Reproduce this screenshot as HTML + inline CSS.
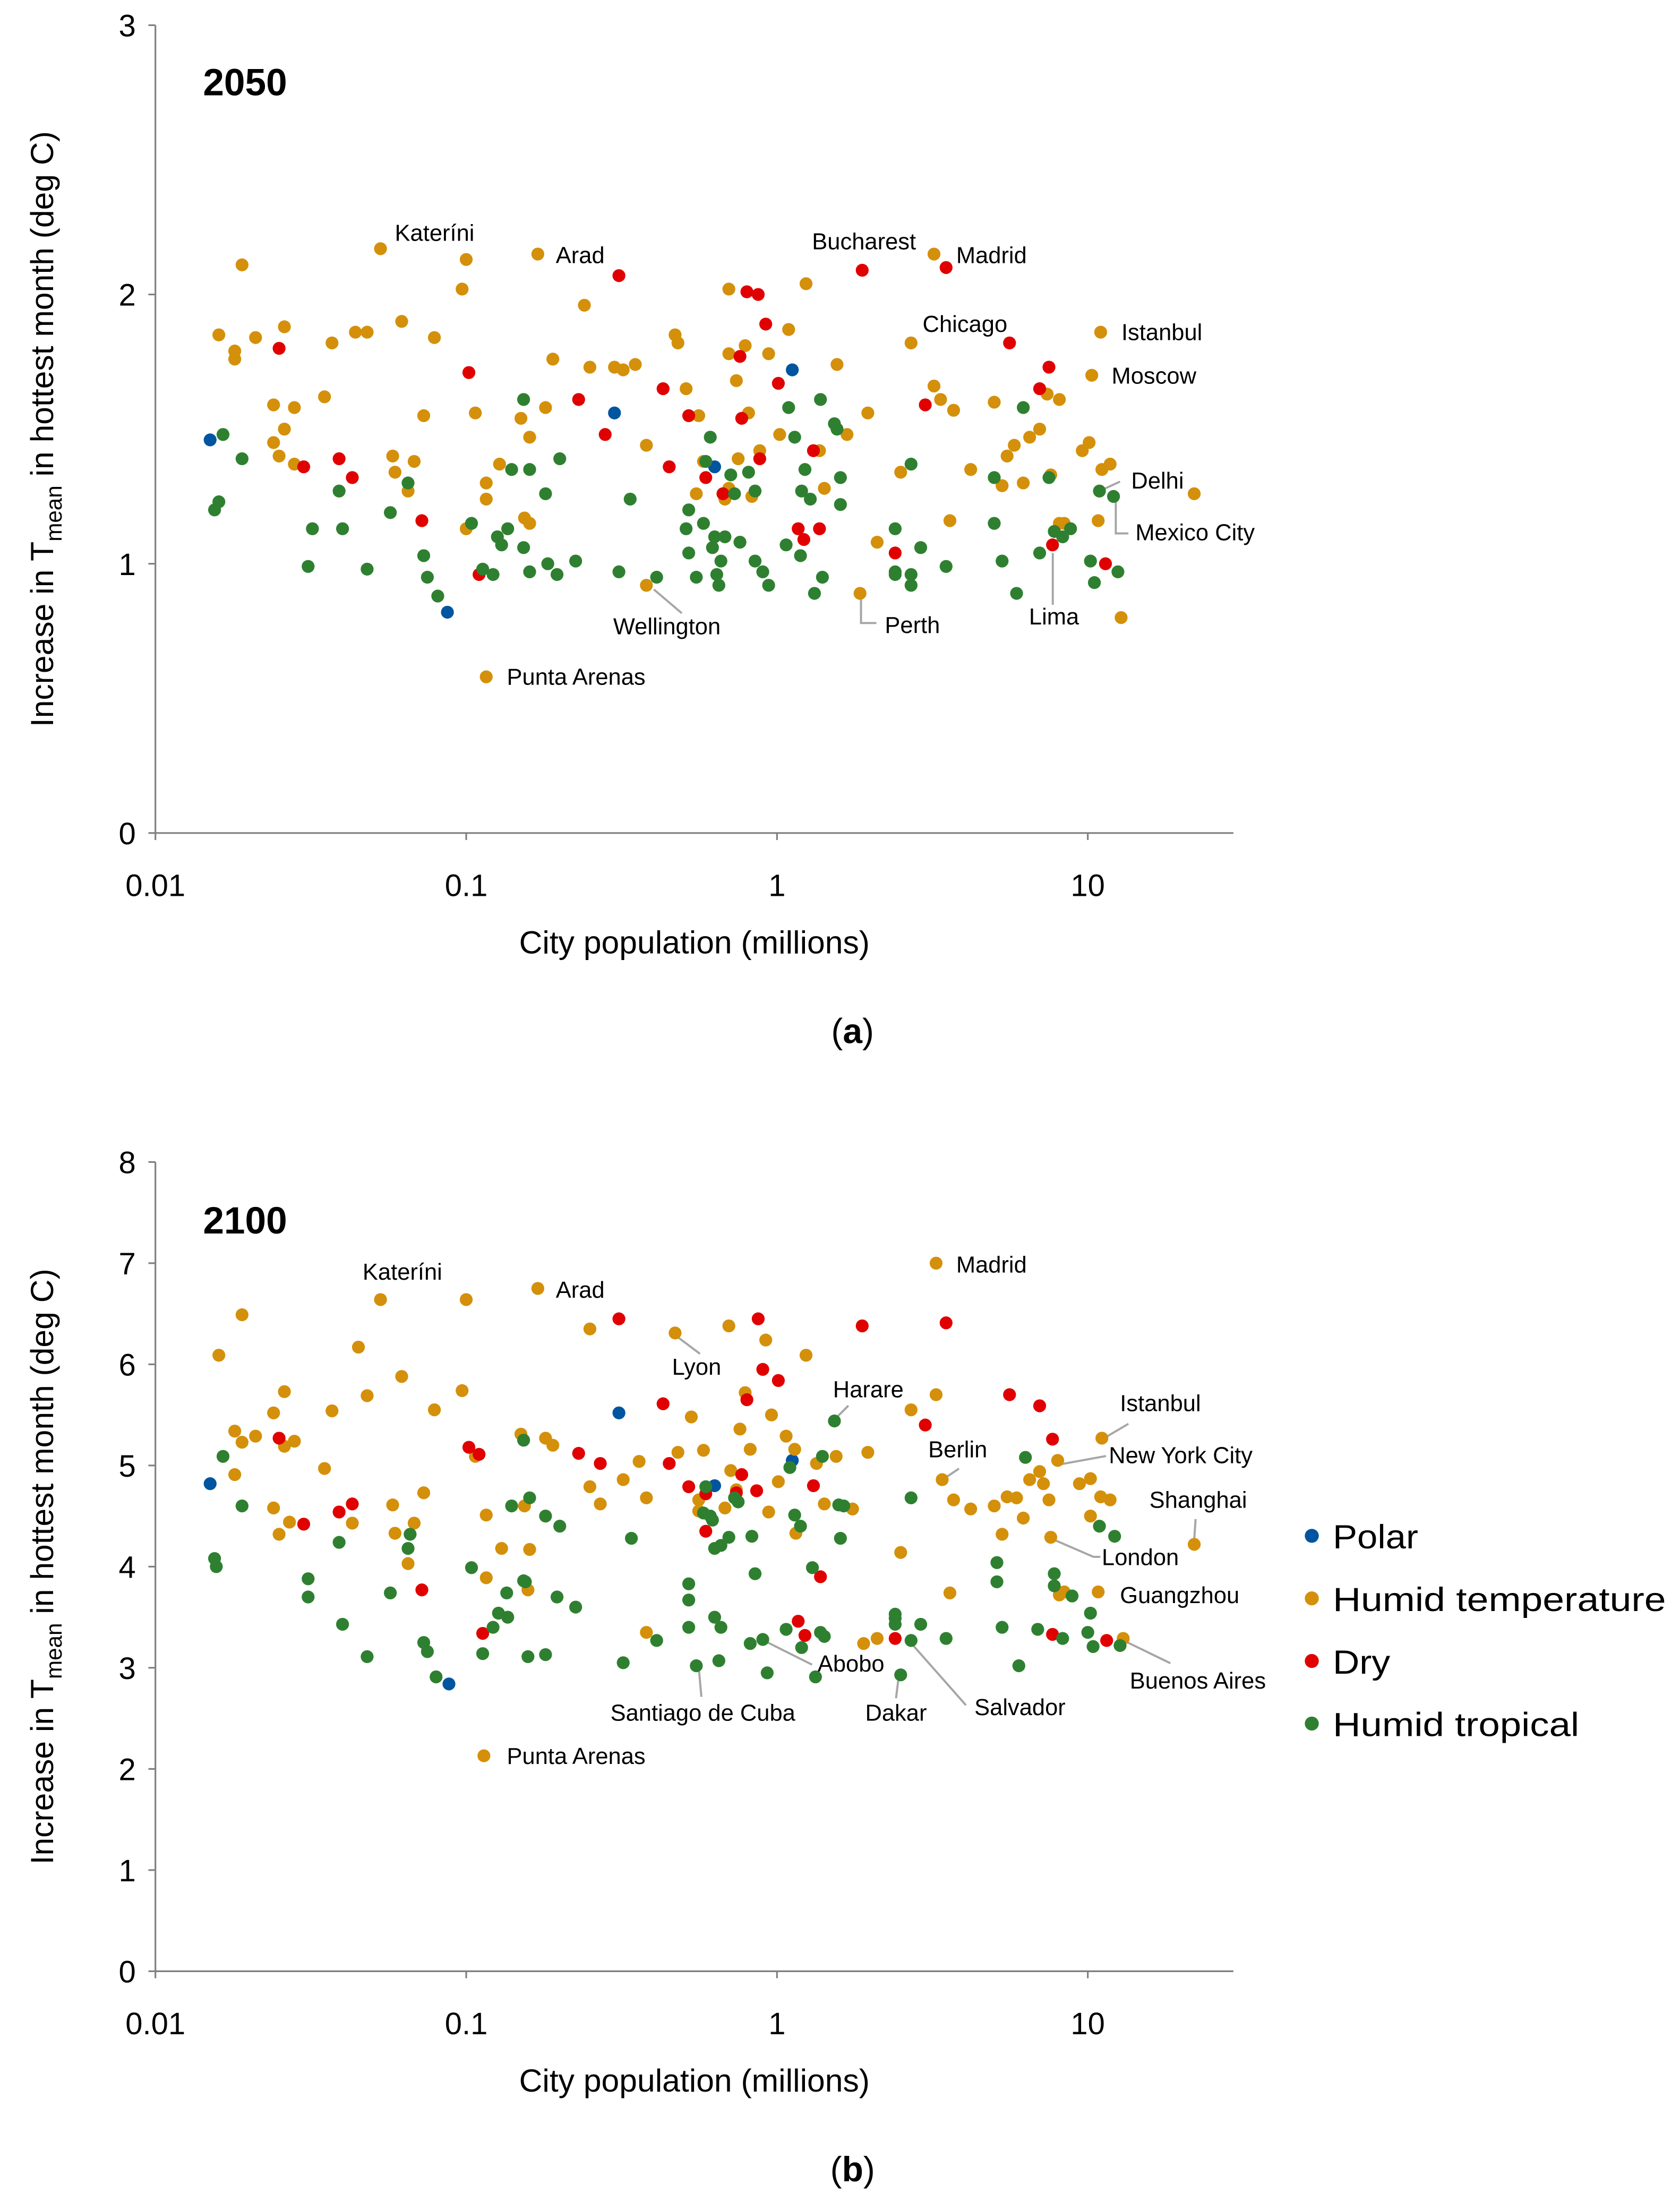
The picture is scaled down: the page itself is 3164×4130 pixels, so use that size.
<!DOCTYPE html>
<html><head><meta charset="utf-8"><style>
html,body{margin:0;padding:0;background:#fff;}
svg{display:block;}
text{font-family:"Liberation Sans",sans-serif;fill:#000;}
</style></head><body>
<svg id="chart" width="3164" height="4130" viewBox="0 0 1200 1566.4" xmlns="http://www.w3.org/2000/svg"></svg>
<script>
// ---------- DATA: chart (a) 2050 — [population in millions, increase deg C] ----------
const a_polar = [[0.015,1.46],[0.30,1.56],[0.087,0.82],[0.63,1.36],[1.12,1.72]];
const a_temperate = [[0.053,2.17],[0.019,2.11],[0.1,2.13],[0.17,2.15],[3.2,2.15],[0.016,1.85],[0.018,1.79],[0.018,1.76],[0.021,1.84],[0.026,1.88],[0.037,1.82],[0.044,1.86],[0.048,1.86],[0.062,1.90],[0.079,1.84],[0.097,2.02],[0.24,1.96],[0.7,2.02],[1.24,2.04],[0.19,1.76],[0.25,1.73],[0.32,1.72],[0.35,1.74],[0.47,1.85],[0.48,1.82],[0.51,1.65],[0.7,1.78],[0.79,1.81],[0.94,1.78],[1.09,1.87],[1.56,1.74],[2.7,1.82],[0.035,1.62],[0.024,1.59],[0.028,1.58],[0.073,1.55],[0.107,1.56],[0.18,1.58],[0.15,1.54],[0.16,1.47],[0.74,1.68],[0.81,1.56],[1.02,1.48],[1.68,1.48],[1.96,1.56],[3.2,1.66],[3.36,1.61],[3.7,1.57],[5,1.6],[5.5,1.4],[5.8,1.44],[6.5,1.47],[7,1.5],[7.4,1.63],[8.1,1.61],[9.6,1.42],[10.1,1.45],[10.3,1.70],[11,1.86],[11.1,1.35],[11.8,1.37],[10.8,1.16],[12.8,0.80],[22,1.26],[0.024,1.45],[0.025,1.40],[0.026,1.50],[0.028,1.37],[0.058,1.40],[0.059,1.34],[0.068,1.38],[0.065,1.27],[0.116,1.30],[0.116,1.24],[0.128,1.37],[0.16,1.15],[0.154,1.17],[0.1,1.13],[0.38,1.44],[0.55,1.26],[0.58,1.38],[0.56,1.55],[0.75,1.39],[0.7,1.28],[0.83,1.25],[0.88,1.42],[1.37,1.42],[1.42,1.28],[2.5,1.34],[4.2,1.35],[5.3,1.29],[6.2,1.30],[7.6,1.33],[8.1,1.15],[8.4,1.15],[3.6,1.16],[2.1,1.08],[0.38,0.92],[1.85,0.89],[0.116,0.58],[0.3,1.73],[0.68,1.24]];
const a_dry = [[0.31,2.07],[1.88,2.09],[3.5,2.10],[0.8,2.01],[0.87,2.0],[5.6,1.82],[7.5,1.73],[7,1.65],[0.025,1.80],[0.102,1.71],[0.23,1.61],[0.43,1.65],[0.52,1.55],[0.76,1.77],[0.77,1.54],[0.92,1.89],[1.01,1.67],[3,1.59],[0.039,1.39],[0.043,1.32],[0.03,1.36],[0.28,1.48],[0.45,1.36],[0.59,1.32],[0.88,1.39],[0.67,1.26],[1.31,1.42],[0.072,1.16],[0.11,0.96],[1.17,1.13],[1.22,1.09],[1.37,1.13],[2.4,1.04],[7.7,1.07],[11.4,1.0]];
const a_tropical = [[0.0155,1.20],[0.016,1.23],[0.0165,1.48],[0.019,1.39],[0.031,0.99],[0.032,1.13],[0.039,1.27],[0.04,1.13],[0.048,0.98],[0.057,1.19],[0.065,1.30],[0.073,1.03],[0.075,0.95],[0.081,0.88],[0.104,1.15],[0.113,0.98],[0.122,0.96],[0.126,1.10],[0.13,1.07],[0.136,1.13],[0.14,1.35],[0.153,1.61],[0.153,1.06],[0.16,1.35],[0.16,0.97],[0.18,1.26],[0.183,1.0],[0.196,0.96],[0.2,1.39],[0.225,1.01],[0.31,0.97],[0.337,1.24],[0.41,0.95],[0.52,1.20],[0.51,1.13],[0.52,1.04],[0.55,0.95],[0.58,1.15],[0.59,1.38],[0.61,1.47],[0.62,1.06],[0.63,1.10],[0.64,0.96],[0.65,0.92],[0.66,1.01],[0.68,1.10],[0.71,1.33],[0.73,1.26],[0.76,1.08],[0.81,1.34],[0.85,1.27],[0.85,1.01],[0.9,0.97],[0.94,0.92],[1.07,1.07],[1.09,1.58],[1.14,1.47],[1.19,1.03],[1.2,1.27],[1.23,1.35],[1.28,1.24],[1.32,0.89],[1.38,1.61],[1.4,0.95],[1.53,1.52],[1.56,1.50],[1.6,1.32],[1.6,1.22],[2.4,0.96],[2.4,0.97],[2.4,1.13],[2.7,0.96],[2.7,0.92],[2.7,1.37],[2.9,1.06],[3.5,0.99],[5,1.32],[5,1.15],[5.3,1.01],[5.9,0.89],[6.2,1.58],[7,1.04],[7.5,1.32],[7.8,1.12],[8.3,1.10],[8.8,1.13],[10.2,1.01],[10.5,0.93],[10.9,1.27],[12.1,1.25],[12.5,0.97]];

// ---------- DATA: chart (b) 2100 ----------
const b_polar = [[0.015,4.82],[0.31,5.52],[0.088,2.84],[0.63,4.80],[1.12,5.05]];
const b_temperate = [[0.053,6.64],[0.019,6.49],[0.1,6.64],[0.17,6.75],[3.25,7.00],[0.016,6.09],[0.47,6.31],[0.25,6.35],[0.7,6.38],[0.92,6.24],[1.24,6.09],[0.045,6.17],[0.062,5.88],[0.018,5.34],[0.019,5.23],[0.021,5.29],[0.024,5.52],[0.026,5.73],[0.026,5.19],[0.028,5.24],[0.035,4.97],[0.037,5.54],[0.048,5.69],[0.079,5.55],[0.097,5.74],[0.107,5.09],[0.116,4.51],[0.13,4.18],[0.15,5.31],[0.154,4.60],[0.16,4.17],[0.18,5.27],[0.19,5.20],[0.018,4.91],[0.024,4.58],[0.025,4.32],[0.027,4.44],[0.043,4.43],[0.058,4.61],[0.059,4.33],[0.068,4.43],[0.065,4.03],[0.073,4.73],[0.116,3.89],[0.158,3.77],[0.25,4.79],[0.27,4.62],[0.32,4.86],[0.36,5.04],[0.38,4.68],[0.38,3.35],[0.48,5.13],[0.53,5.48],[0.56,4.66],[0.56,4.55],[0.58,5.15],[0.68,4.58],[0.71,4.95],[0.74,4.76],[0.76,5.36],[0.79,5.72],[0.82,5.16],[0.94,4.54],[0.96,5.50],[1.01,4.84],[1.07,5.29],[1.14,5.16],[1.15,4.33],[1.34,5.02],[1.42,4.62],[1.55,5.09],[1.75,4.57],[1.96,5.13],[1.9,3.24],[2.1,3.29],[2.5,4.14],[2.7,5.55],[3.25,5.70],[3.4,4.86],[3.6,3.74],[3.7,4.66],[4.2,4.57],[5,4.60],[5.3,4.32],[5.5,4.69],[5.9,4.68],[6.2,4.48],[6.5,4.86],[7,4.94],[7.2,4.82],[7.5,4.66],[7.6,4.29],[8.1,3.72],[8.4,3.75],[9.4,4.82],[10.2,4.87],[10.2,4.50],[10.8,3.75],[11.1,5.27],[11,4.69],[11.8,4.66],[13,3.29],[22,4.22],[0.114,2.13],[8,5.05]];
const b_dry = [[0.025,5.27],[0.03,4.42],[0.039,4.54],[0.043,4.62],[0.072,3.77],[0.102,5.18],[0.11,5.11],[0.113,3.34],[0.23,5.12],[0.27,5.02],[0.31,6.45],[0.43,5.61],[0.45,5.02],[0.52,4.79],[0.59,4.72],[0.59,4.35],[0.74,4.73],[0.77,4.91],[0.8,5.65],[0.86,4.75],[0.87,6.45],[0.9,5.95],[1.01,5.84],[1.17,3.46],[1.23,3.32],[1.31,4.80],[1.38,3.90],[1.88,6.38],[2.4,3.29],[3,5.40],[3.5,6.41],[5.6,5.70],[7,5.59],[7.7,5.26],[7.7,3.33],[11.5,3.27]];
const b_tropical = [[0.0155,4.08],[0.0157,4.0],[0.0165,5.09],[0.019,4.60],[0.031,3.88],[0.031,3.70],[0.039,4.24],[0.04,3.43],[0.048,3.11],[0.057,3.74],[0.065,4.18],[0.066,4.32],[0.073,3.25],[0.075,3.16],[0.08,2.91],[0.104,3.99],[0.113,3.14],[0.122,3.40],[0.127,3.54],[0.135,3.74],[0.136,3.50],[0.14,4.60],[0.153,3.86],[0.153,5.25],[0.155,3.85],[0.158,3.11],[0.16,4.68],[0.18,4.50],[0.18,3.13],[0.196,3.70],[0.2,4.40],[0.225,3.60],[0.32,3.05],[0.34,4.28],[0.41,3.27],[0.52,3.83],[0.52,3.67],[0.52,3.40],[0.55,3.02],[0.58,4.53],[0.59,4.79],[0.61,4.50],[0.62,4.46],[0.63,4.18],[0.63,3.50],[0.65,3.07],[0.66,3.40],[0.66,4.21],[0.7,4.29],[0.73,4.68],[0.75,4.64],[0.82,3.24],[0.83,4.30],[0.85,3.93],[0.9,3.28],[0.93,2.95],[1.07,3.38],[1.1,4.98],[1.14,4.51],[1.19,4.40],[1.2,3.20],[1.3,3.99],[1.33,2.91],[1.38,3.35],[1.42,3.31],[1.4,5.09],[1.53,5.44],[1.58,4.61],[1.64,4.60],[1.6,4.28],[2.4,3.49],[2.4,3.43],[2.4,3.53],[2.5,2.93],[2.7,3.27],[2.7,4.68],[2.9,3.43],[3.5,3.29],[5.1,4.04],[5.1,3.85],[5.3,3.40],[6,3.02],[6.3,5.08],[6.9,3.38],[7.8,3.93],[7.8,3.81],[8.3,3.29],[8.9,3.71],[10,3.35],[10.2,3.54],[10.4,3.21],[10.9,4.40],[12.2,4.30],[12.7,3.22]];

const xTickVals = [0.01,0.1,1,10];
const xTickLabels = ["0.01","0.1","1","10"];
const aYTicks = [0,1,2,3];
const bYTicks = [0,1,2,3,4,5,6,7,8];
const classNames = ["Polar","Humid temperature","Dry","Humid tropical"];
const classColors = ["#0055a0","#d4900a","#e00000","#2e8030"];
const legendWidths = [61,238,41,176];

// ---------- drawing ----------
const NS="http://www.w3.org/2000/svg";
const svg=document.getElementById('chart');
function mk(tag,attrs,parent){const e=document.createElementNS(NS,tag);for(const k in attrs)e.setAttribute(k,attrs[k]);(parent||svg).appendChild(e);return e;}
function txt(s,attrs,parent){const e=mk('text',attrs,parent);e.textContent=s;return e;}

const X0=111, X1=881;
function xScale(v){return 555+222*Math.log10(v);}

function drawPanel(cfg){
  const g=mk('g',{});
  
  
  const yScale=v=>cfg.yBottom-(cfg.yBottom-cfg.yTop)*v/cfg.yMax;
  const ax=mk('line',{x1:X0,y1:cfg.yTop,x2:X0,y2:cfg.yBottom,stroke:'#7f7f7f','stroke-width':1.2},g);
  
  
  const bx=mk('line',{x1:X0,y1:cfg.yBottom,x2:X1,y2:cfg.yBottom,stroke:'#7f7f7f','stroke-width':1.2},g);
  
  
  cfg.yTicks.forEach(t=>{
    const y=yScale(t);
    mk('line',{x1:X0-5,y1:y,x2:X0,y2:y,stroke:'#7f7f7f','stroke-width':1.2},g);
    const l=txt(String(t),{x:X0-14,y:y+8,'text-anchor':'end','font-size':22},g);
    
    
  });
  xTickVals.forEach((t,i)=>{
    const x=xScale(t);
    mk('line',{x1:x,y1:cfg.yBottom,x2:x,y2:cfg.yBottom+5,stroke:'#7f7f7f','stroke-width':1.2},g);
    const l=txt(xTickLabels[i],{x:x,y:cfg.yBottom+45,'text-anchor':'middle','font-size':22},g);
    
    
  });
  const xt=txt('City population (millions)',{x:496,y:cfg.yBottom+86,'text-anchor':'middle','font-size':23},g);
  
  
  const cy=(cfg.yTop+cfg.yBottom)/2;
  const yt=mk('text',{x:0,y:0,'text-anchor':'middle','font-size':23,transform:`translate(38,${cy}) rotate(-90)`},g);
  
  
  yt.innerHTML='Increase in T<tspan font-size="16" dy="6">mean</tspan><tspan dy="-6"> in hottest month (deg C)</tspan>';
  const yr=txt(cfg.year,{x:145,y:cfg.yearY,'font-size':27,'font-weight':'bold'},g);
  
  
  const pl=mk('text',{x:609,y:cfg.yBottom+150,'text-anchor':'middle','font-size':25,'font-family':'Liberation Serif, serif'},g);
  
  
  pl.innerHTML='(<tspan font-weight="bold">'+cfg.letter+'</tspan>)';
  cfg.lines.forEach(p=>{
    const ln=mk('polyline',{points:p,fill:'none',stroke:'#a6a6a6','stroke-width':1.5},g);
    
    
  });
  cfg.series.forEach((ser,ci)=>{
    ser.forEach(d=>{
      const c=mk('circle',{cx:xScale(d[0]),cy:yScale(d[1]),r:4.6,fill:classColors[ci]},g);
      
      
    });
  });
  cfg.labels.forEach(l=>{
    const t=txt(l[0],{x:l[1],y:l[2],'font-size':16.5},g);
    
    
  });
}

drawPanel({name:'chart-2050',year:'2050',letter:'a',yearY:68,yTop:18,yBottom:595,yMax:3,yTicks:aYTicks,
  series:[a_polar,a_temperate,a_dry,a_tropical],
  lines:['787,350 800,344','797,356 797,381 806,381','752,395 752,432','467,421 487,438','615,428 615,445 626,445'],
  labels:[['Kateríni',282,172],['Arad',397,188],['Bucharest',580,178],['Madrid',683,188],['Chicago',659,237],['Istanbul',801,243],['Moscow',794,274],['Delhi',808,349],['Mexico City',811,386],['Lima',735,446],['Wellington',438,453],['Perth',632,452],['Punta Arenas',362,489]]});

drawPanel({name:'chart-2100',year:'2100',letter:'b',yearY:881,yTop:830,yBottom:1408,yMax:8,yTicks:bYTicks,
  series:[b_polar,b_temperate,b_dry,b_tropical],
  lines:['484,955 500,967','597,1013 606,1004','673,1057 685,1049','789,1027 806,1017','757,1046 790,1040','853,1100 854,1085','751,1099 781,1112 786,1112','803,1172 836,1188','652,1175 690,1218','642,1197 640,1213','548,1173 580,1189','499,1190 501,1212'],
  labels:[['Kateríni',259,914],['Arad',397,927],['Madrid',683,909],['Lyon',480,982],['Harare',595,998],['Berlin',663,1041],['Istanbul',800,1008],['New York City',792,1045],['Shanghai',821,1077],['London',787,1118],['Guangzhou',800,1145],['Buenos Aires',807,1206],['Salvador',696,1225],['Dakar',618,1229],['Abobo',584,1194],['Santiago de Cuba',436,1229],['Punta Arenas',362,1260]]});

const lg=mk('g',{});


classNames.forEach((n,i)=>{
  const y=1097+i*44.7;
  const c=mk('circle',{cx:937,cy:y,r:5,fill:classColors[i]},lg);
  
  
  const t=txt(n,{x:952,y:y+9,'font-size':24,textLength:legendWidths[i],lengthAdjust:'spacingAndGlyphs'},lg);
  
  
});
</script>
</body></html>
